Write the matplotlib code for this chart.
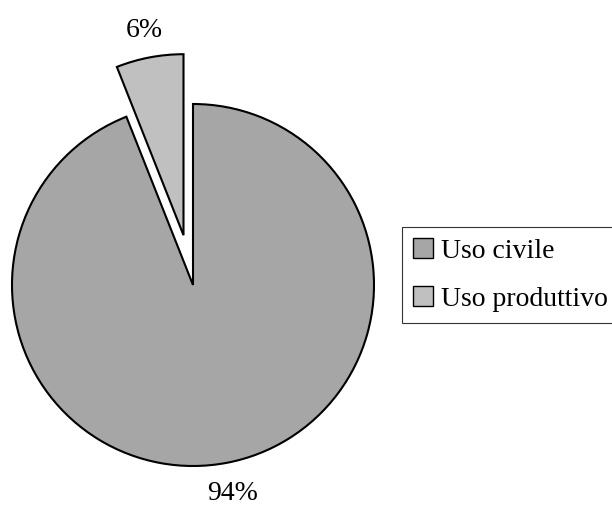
import matplotlib
matplotlib.use("Agg")
import numpy as np
import matplotlib.pyplot as plt

plt.rcParams['font.family'] = ['Liberation Serif', 'DejaVu Serif']

categories = ["Uso civile", "Uso produttivo"]
shares = [94, 6]
colors = ["#a6a6a6", "#c0c0c0"]
explode = [0.0, 0.28]
label_dist = [1.175, 1.15]

W, H = 612, 508
fig = plt.figure(figsize=(W / 100, H / 100), dpi=100)

cx, cy, r = 193, 285, 181
ax = fig.add_axes([(cx - r) / W, (H - cy - r) / H, 2 * r / W, 2 * r / H])

wedges, _ = ax.pie(
    shares,
    colors=colors,
    explode=explode,
    startangle=90,
    counterclock=False,
    wedgeprops=dict(edgecolor="black", linewidth=1.5, clip_on=False),
)

# percentage labels placed radially outside each wedge
total = sum(shares)
for w, v, d in zip(wedges, shares, label_dist):
    mid = np.deg2rad((w.theta1 + w.theta2) / 2)
    x0, y0 = w.center
    ax.text(x0 + d * np.cos(mid), y0 + d * np.sin(mid),
            f"{100 * v / total:.0f}%", ha="center", va="center",
            fontsize=20, color="black")

ax.set_xlim(-1, 1)
ax.set_ylim(-1, 1)
ax.set_aspect("equal")
ax.axis("off")

leg = fig.legend(
    wedges, categories,
    loc="upper left",
    bbox_to_anchor=(402 / W, 1 - 227 / H),
    bbox_transform=fig.transFigure,
    fontsize=20,
    frameon=True,
    fancybox=False,
    edgecolor="black",
    handlelength=0.72,
    handleheight=0.72,
    handletextpad=0.3,
    labelspacing=0.8,
    borderpad=0.4,
    borderaxespad=0,
)
leg.get_frame().set_linewidth(0.8)
for h in leg.legend_handles:
    h.set_linewidth(1.0)

fig.savefig("out.png", dpi=100)
